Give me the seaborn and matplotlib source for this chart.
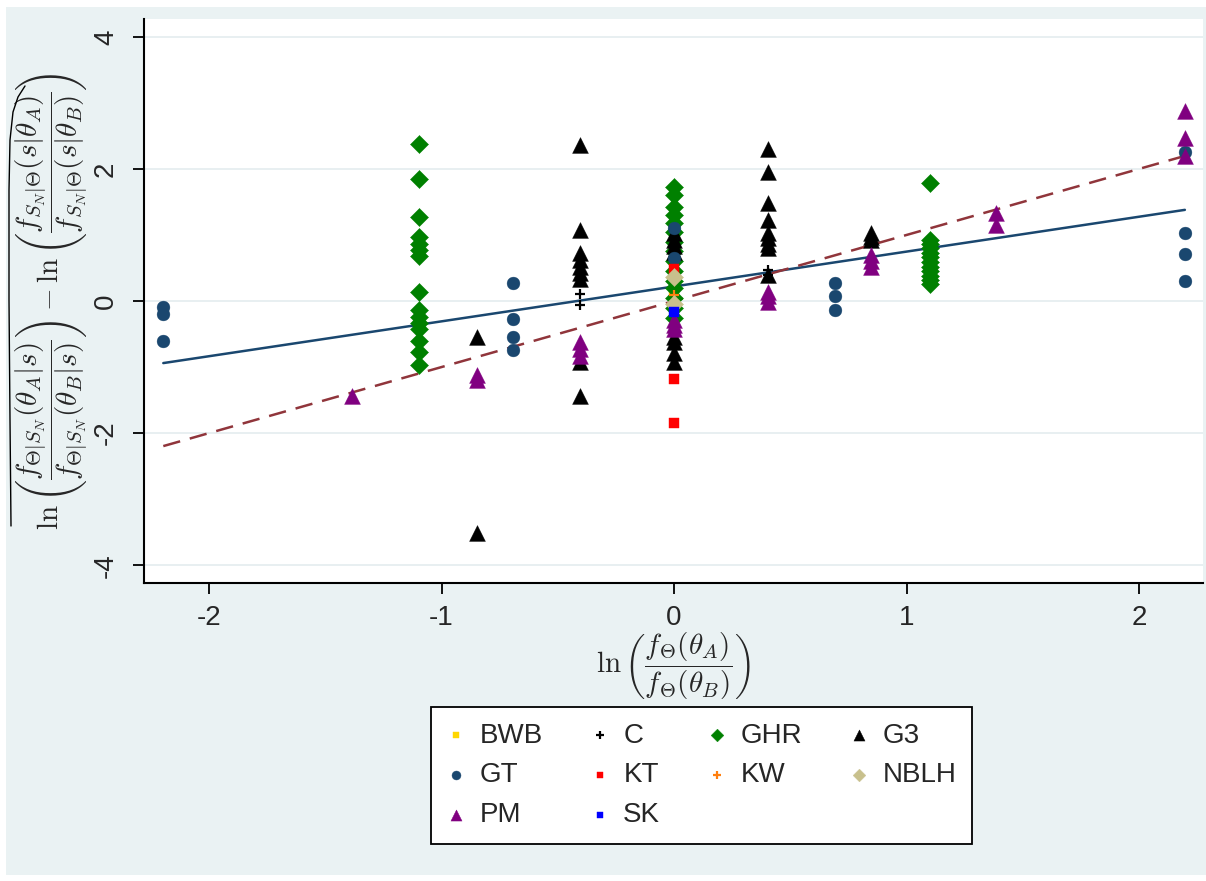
import matplotlib
matplotlib.use("Agg")
import matplotlib.pyplot as plt
import seaborn as sns
import pandas as pd
from matplotlib.patches import Rectangle
from matplotlib.lines import Line2D

# ---------------- data ----------------
BWB_x = [0.0]
BWB_y = [0.15]

C_x = [-0.405, -0.405, 0.405, 0.405]
C_y = [0.10, -0.06, 0.47, 0.39]

GHR_x = [-1.099, -1.099, -1.099, -1.099, -1.099, -1.099, -1.099, -1.099,
         -1.099, -1.099, -1.099, -1.099, -1.099, -1.099, -1.099,
         0.0, 0.0, 0.0, 0.0, 0.0, 0.0, 0.0, 0.0, 0.0, 0.0, 0.0, 0.0, 0.0, 0.0, 0.0,
         1.099, 1.099, 1.099, 1.099, 1.099, 1.099, 1.099, 1.099, 1.099, 1.099,
         1.099, 1.099]
GHR_y = [2.37, 1.84, 1.27, 0.97, 0.87, 0.77, 0.68, 0.14, -0.13, -0.24, -0.34,
         -0.42, -0.60, -0.77, -0.97,
         1.73, 1.61, 1.43, 1.30, 1.18, 1.05, 0.90, 0.75, 0.60, 0.45, 0.30, 0.20,
         0.05, -0.10, -0.25,
         1.79, 0.93, 0.86, 0.80, 0.73, 0.66, 0.59, 0.52, 0.45, 0.38, 0.32, 0.26]

G3_x = [-0.847, -0.847,
        -0.405, -0.405, -0.405, -0.405, -0.405, -0.405, -0.405, -0.405, -0.405,
        0.0, 0.0, 0.0, 0.0, 0.0, 0.0, 0.0, 0.0,
        0.405, 0.405, 0.405, 0.405, 0.405, 0.405, 0.405, 0.405, 0.405,
        0.847, 0.847, 0.847]
G3_y = [-0.54, -3.52,
        2.36, 1.08, 0.72, 0.62, 0.52, 0.42, 0.34, -0.92, -1.44,
        1.03, 0.93, 0.84, 0.74, -0.55, -0.62, -0.79, -0.92,
        2.30, 1.96, 1.48, 1.23, 1.03, 0.95, 0.87, 0.80, 0.40,
        1.03, 0.97, 0.92]

GT_x = [-2.197, -2.197, -2.197, -0.693, -0.693, -0.693, -0.693, 0.0, 0.0,
        0.693, 0.693, 0.693, 2.197, 2.197, 2.197, 2.197]
GT_y = [-0.09, -0.19, -0.61, 0.28, -0.28, -0.55, -0.74, 1.11, 0.65,
        0.28, 0.08, -0.14, 2.26, 1.03, 0.71, 0.30]

KT_x = [0.0, 0.0, 0.0]
KT_y = [0.48, -1.18, -1.85]

KW_x = [0.0]
KW_y = [0.09]

NBLH_x = [0.0, 0.0]
NBLH_y = [0.37, -0.05]

PM_x = [-1.386, -0.847, -0.847, -0.405, -0.405, -0.405, 0.0, 0.0, 0.0,
        0.405, 0.405, 0.405, 0.847, 0.847, 0.847, 1.386, 1.386,
        2.197, 2.197, 2.197]
PM_y = [-1.44, -1.12, -1.20, -0.62, -0.72, -0.84, -0.29, -0.36, -0.42,
        0.14, 0.07, -0.01, 0.70, 0.60, 0.52, 1.33, 1.15,
        2.87, 2.47, 2.19]

SK_x = [0.0]
SK_y = [-0.17]

fit_x = [-2.197, 2.197]
fit_y = [-0.94, 1.38]      # fitted line
diag_y = [-2.197, 2.197]   # 45-degree line

x_ticks = [-2, -1, 0, 1, 2]
y_ticks = [-4, -2, 0, 2, 4]

# ---------------- styles ----------------
groups = [
    ("BWB", BWB_x, BWB_y, dict(marker="s", color="#ffd700", s=50)),
    ("C", C_x, C_y, dict(marker="+", color="black", s=60, linewidth=1.6)),
    ("GHR", GHR_x, GHR_y, dict(marker="D", color="#008000", s=85)),
    ("G3", G3_x, G3_y, dict(marker="^", color="black", s=130)),
    ("GT", GT_x, GT_y, dict(marker="o", color="#1a476f", s=85)),
    ("KT", KT_x, KT_y, dict(marker="s", color="#ff0000", s=50)),
    ("KW", KW_x, KW_y, dict(marker="+", color="#ff7f0e", s=60, linewidth=1.6)),
    ("NBLH", NBLH_x, NBLH_y, dict(marker="D", color="#c8c08c", s=85)),
    ("PM", PM_x, PM_y, dict(marker="^", color="#800080", s=130)),
    ("SK", SK_x, SK_y, dict(marker="s", color="#0000ff", s=50)),
]

sns.set_style("white")
plt.rcParams["font.family"] = ["Liberation Sans", "DejaVu Sans"]
plt.rcParams["mathtext.fontset"] = "cm"

W, H = 1206, 881
fig = plt.figure(figsize=(W / 100, H / 100), dpi=100, facecolor="white")
fig.add_artist(Rectangle((6 / W, 6 / H), 1 - 6 / W, 1 - 13 / H,
                         transform=fig.transFigure, facecolor="#eaf2f3",
                         edgecolor="none", zorder=-10))

ax = fig.add_axes([144 / W, 1 - 583 / H, (1203 - 144) / W, (583 - 19) / H])
ax.set_facecolor("white")

for name, gx, gy, st in groups:
    st = dict(st)
    if st["marker"] == "+":
        sns.scatterplot(x=gx, y=gy, ax=ax, label=name, zorder=3, **st)
    else:
        sns.scatterplot(x=gx, y=gy, ax=ax, label=name, edgecolor=st["color"],
                        linewidth=0.3, zorder=3, **st)

sns.lineplot(x=fit_x, y=fit_y, ax=ax, color="#1a476f", linewidth=1.8, zorder=2)
sns.lineplot(x=fit_x, y=diag_y, ax=ax, color="#90353b", linewidth=1.8,
             dashes=(7, 4), zorder=2)

ax.set_xlim(-2.28, 2.275)
ax.set_ylim(-4.27, 4.27)
ax.set_xticks(x_ticks)
ax.set_yticks(y_ticks)
ax.set_xticklabels([str(v) for v in x_ticks], fontsize=20)
ax.set_yticklabels([str(v) for v in y_ticks], fontsize=20, rotation=90,
                   va="center")
ax.tick_params(axis="both", direction="out", length=8, width=1.3,
               color="black", left=True, bottom=True)
ax.tick_params(axis="x", pad=8)
ax.tick_params(axis="y", pad=10)
ax.yaxis.grid(True, color="#e6eef0", linewidth=1.3)
ax.xaxis.grid(False)
ax.set_axisbelow(True)
for side in ["top", "right"]:
    ax.spines[side].set_visible(False)
for side in ["left", "bottom"]:
    ax.spines[side].set_color("black")
    ax.spines[side].set_linewidth(1.5)

ax.set_xlabel(r"$\ln\left(\dfrac{f_{\Theta}(\theta_A)}{f_{\Theta}(\theta_B)}\right)$",
              fontsize=21, labelpad=0)
ax.set_ylabel(r"$\ln\left(\dfrac{f_{\Theta|S_N}(\theta_A|s)}{f_{\Theta|S_N}(\theta_B|s)}\right)"
              r"-\ln\left(\dfrac{f_{S_N|\Theta}(s|\theta_A)}{f_{S_N|\Theta}(s|\theta_B)}\right)$",
              fontsize=21, labelpad=1.5)

# wide hat over the y label (label decoration, figure pixel coords, y down)
hat_px = [(11, 526), (10, 420), (9, 300), (9, 190), (10, 140), (13, 112),
          (18, 97), (25, 86)]
fig.add_artist(Line2D([p[0] / W for p in hat_px], [1 - p[1] / H for p in hat_px],
                      transform=fig.transFigure, color="black", linewidth=1.0))

handles, labels = ax.get_legend_handles_labels()
if ax.get_legend() is not None:
    ax.get_legend().remove()
order = ["BWB", "GT", "PM", "C", "KT", "SK", "GHR", "KW", "G3", "NBLH"]
hmap = dict(zip(labels, handles))
leg = fig.legend([hmap[k] for k in order], order, ncol=4, loc="center",
                 bbox_to_anchor=(701.5 / W, 1 - 775.5 / H), fontsize=20,
                 frameon=True, fancybox=False, edgecolor="black",
                 facecolor="white", framealpha=1, markerscale=0.7,
                 handlelength=0.7, handletextpad=0.5, columnspacing=1.7,
                 labelspacing=0.5, borderpad=0.55)
leg.get_frame().set_linewidth(1.3)

fig.savefig("out.png", dpi=100, facecolor="white")
